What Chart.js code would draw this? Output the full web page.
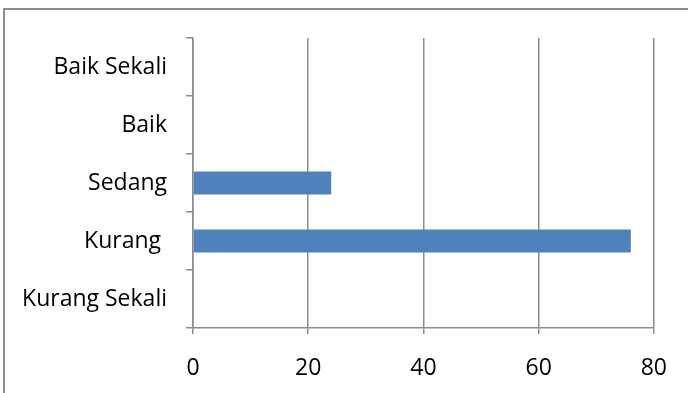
<!DOCTYPE html>
<html>
<head>
<meta charset="utf-8">
<script src="https://cdn.jsdelivr.net/npm/chart.js@4/dist/chart.umd.min.js"></script>
<style>
  html, body { margin: 0; padding: 0; background: #fff; overflow: hidden; }
  #wrap { position: relative; width: 688px; height: 393px; }
  #frame { position: absolute; left: 3px; top: 8px; width: 700px; height: 400px; border: 2px solid #8c8c8c; }
  #chart { position: absolute; left: 0; top: 0; }
</style>
</head>
<body>
<div id="wrap">
  <div id="frame"></div>
  <canvas id="chart" width="688" height="393"></canvas>
</div>
<script>
// Kategori penilaian dan persentase tiap kategori
const kategori = ['Baik Sekali', 'Baik', 'Sedang', 'Kurang ', 'Kurang Sekali'];
const nilai = [0, 0, 24, 76, 0];
const sumbuX = { min: 0, max: 80, step: 20 };

const fontLabel = { family: '"Open Sans", sans-serif', size: 23 };
const abu = '#8c8c8c';

const ctx = document.getElementById('chart').getContext('2d');
new Chart(ctx, {
    type: 'bar',
    data: {
        labels: kategori,
        datasets: [{
            data: nilai,
            backgroundColor: '#4f81bd',
            borderWidth: 0,
            categoryPercentage: 1,
            barPercentage: 0.4
        }]
    },
    options: {
        indexAxis: 'y',
        responsive: false,
        animation: false,
        layout: { padding: { left: 0, top: 38, right: 34, bottom: 0 } },
        plugins: { legend: { display: false }, tooltip: { enabled: false } },
        scales: {
            x: {
                min: sumbuX.min,
                max: sumbuX.max,
                ticks: { stepSize: sumbuX.step, color: '#000', font: fontLabel, padding: 21 },
                grid: { color: abu, lineWidth: 1.5, tickLength: 6 },
                border: { color: abu, width: 1.5 },
                afterFit: scale => { scale.height = 65; }
            },
            y: {
                ticks: { color: '#000', font: fontLabel, padding: 19 },
                grid: { offset: true, drawOnChartArea: false, color: abu, lineWidth: 1.5, tickLength: 7 },
                border: { color: abu, width: 1.5 },
                afterFit: scale => { scale.width = 193; }
            }
        }
    }
});
</script>
</body>
</html>
